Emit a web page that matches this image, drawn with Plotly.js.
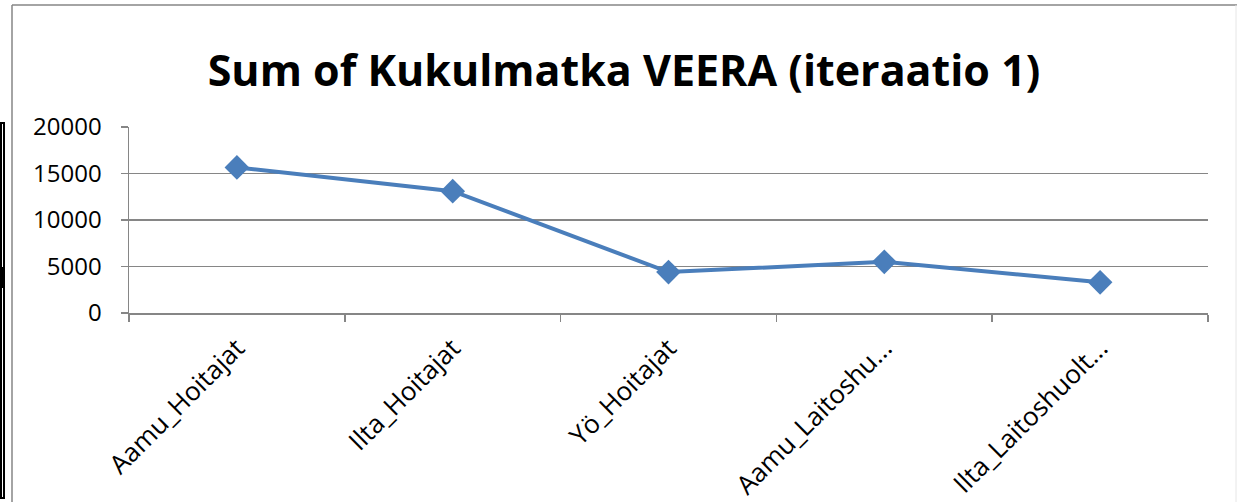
<!DOCTYPE html>
<html>
<head>
<meta charset="utf-8">
<script src="https://cdn.plot.ly/plotly-3.0.1.min.js"></script>
<style>html,body{margin:0;padding:0;background:#fff;}#chart{width:1237px;height:502px;}</style>
</head>
<body>
<div id="chart"></div>
<script>
const categories = ["Aamu_Hoitajat", "Ilta_Hoitajat", "Yö_Hoitajat", "Aamu_Laitoshu...", "Ilta_Laitoshuolt..."];
const values = [15650, 13100, 4400, 5500, 3300];
const yTicks = [0, 5000, 10000, 15000, 20000];
const titleText = "Sum of Kukulmatka VEERA (iteraatio 1)";

const W = 1237, H = 502;
const L = 129, R = 1208, T = 127, B = 313;
const px = x => (x - L) / (R - L);
const py = y => (B - y) / (B - T);

const gray = "#868686";

const shapes = [
  {type: "line", xref: "paper", yref: "paper", x0: px(12), x1: px(12), y0: py(5), y1: py(502), line: {color: gray, width: 1.5}},
  {type: "line", xref: "paper", yref: "paper", x0: px(12), x1: px(1237), y0: py(5), y1: py(5), line: {color: gray, width: 1.5}},
  {type: "line", xref: "paper", yref: "paper", x0: px(1236), x1: px(1236), y0: py(5), y1: py(502), line: {color: "#e6e6e6", width: 1}},
  {type: "line", xref: "paper", yref: "paper", x0: px(1), x1: px(1), y0: py(123), y1: py(498), line: {color: "#000", width: 2}},
  {type: "line", xref: "paper", yref: "paper", x0: px(4), x1: px(4), y0: py(123), y1: py(498), line: {color: "#000", width: 2}},
  {type: "line", xref: "paper", yref: "paper", x0: px(0), x1: px(5), y0: py(123), y1: py(123), line: {color: "#000", width: 2}},
  {type: "line", xref: "paper", yref: "paper", x0: px(0), x1: px(5), y0: py(498), y1: py(498), line: {color: "#000", width: 2}},
  {type: "rect", xref: "paper", yref: "paper", x0: px(0), x1: px(5), y0: py(267), y1: py(288), line: {width: 0}, fillcolor: "#000"}
];

const trace = {
  x: categories,
  y: values,
  type: "scatter",
  mode: "lines+markers",
  line: {color: "#4A7EBB", width: 4},
  marker: {symbol: "diamond", size: 19, color: "#4A7EBB"},
  hoverinfo: "x+y"
};

const layout = {
  width: W, height: H,
  margin: {l: L, r: W - R, t: T, b: H - B, pad: 0},
  paper_bgcolor: "#fff", plot_bgcolor: "#fff",
  showlegend: false,
  font: {family: "'Open Sans', sans-serif", color: "#000"},
  title: {
    text: titleText,
    font: {family: "'Open Sans', sans-serif", size: 43, weight: "bold", color: "#000"},
    xref: "container", yref: "container",
    x: 624 / W, xanchor: "center",
    y: 1 - 71 / H, yanchor: "middle"
  },
  xaxis: {
    type: "category",
    range: [-0.5, categories.length - 0.5],
    tickmode: "array",
    tickvals: categories,
    ticktext: categories,
    tickson: "boundaries",
    ticks: "outside", ticklen: 7, tickcolor: gray, tickwidth: 1.5,
    ticklabelstandoff: 8,
    tickangle: -45,
    tickfont: {family: "'Open Sans', sans-serif", size: 26, color: "#000"},
    showline: true, linecolor: gray, linewidth: 1.5,
    showgrid: false, zeroline: false,
    fixedrange: true
  },
  yaxis: {
    range: [0, 20000],
    tickmode: "array",
    tickvals: yTicks,
    ticktext: yTicks.map(String),
    ticks: "outside", ticklen: 7, tickcolor: gray, tickwidth: 1.5,
    ticklabelstandoff: 14,
    tickfont: {family: "'Open Sans', sans-serif", size: 24, color: "#000"},
    showline: true, linecolor: gray, linewidth: 1.5,
    showgrid: true, gridcolor: gray, gridwidth: 1.5,
    zeroline: false,
    fixedrange: true
  },
  shapes: shapes
};

Plotly.newPlot("chart", [trace], layout, {displayModeBar: false, staticPlot: true});
</script>
</body>
</html>
